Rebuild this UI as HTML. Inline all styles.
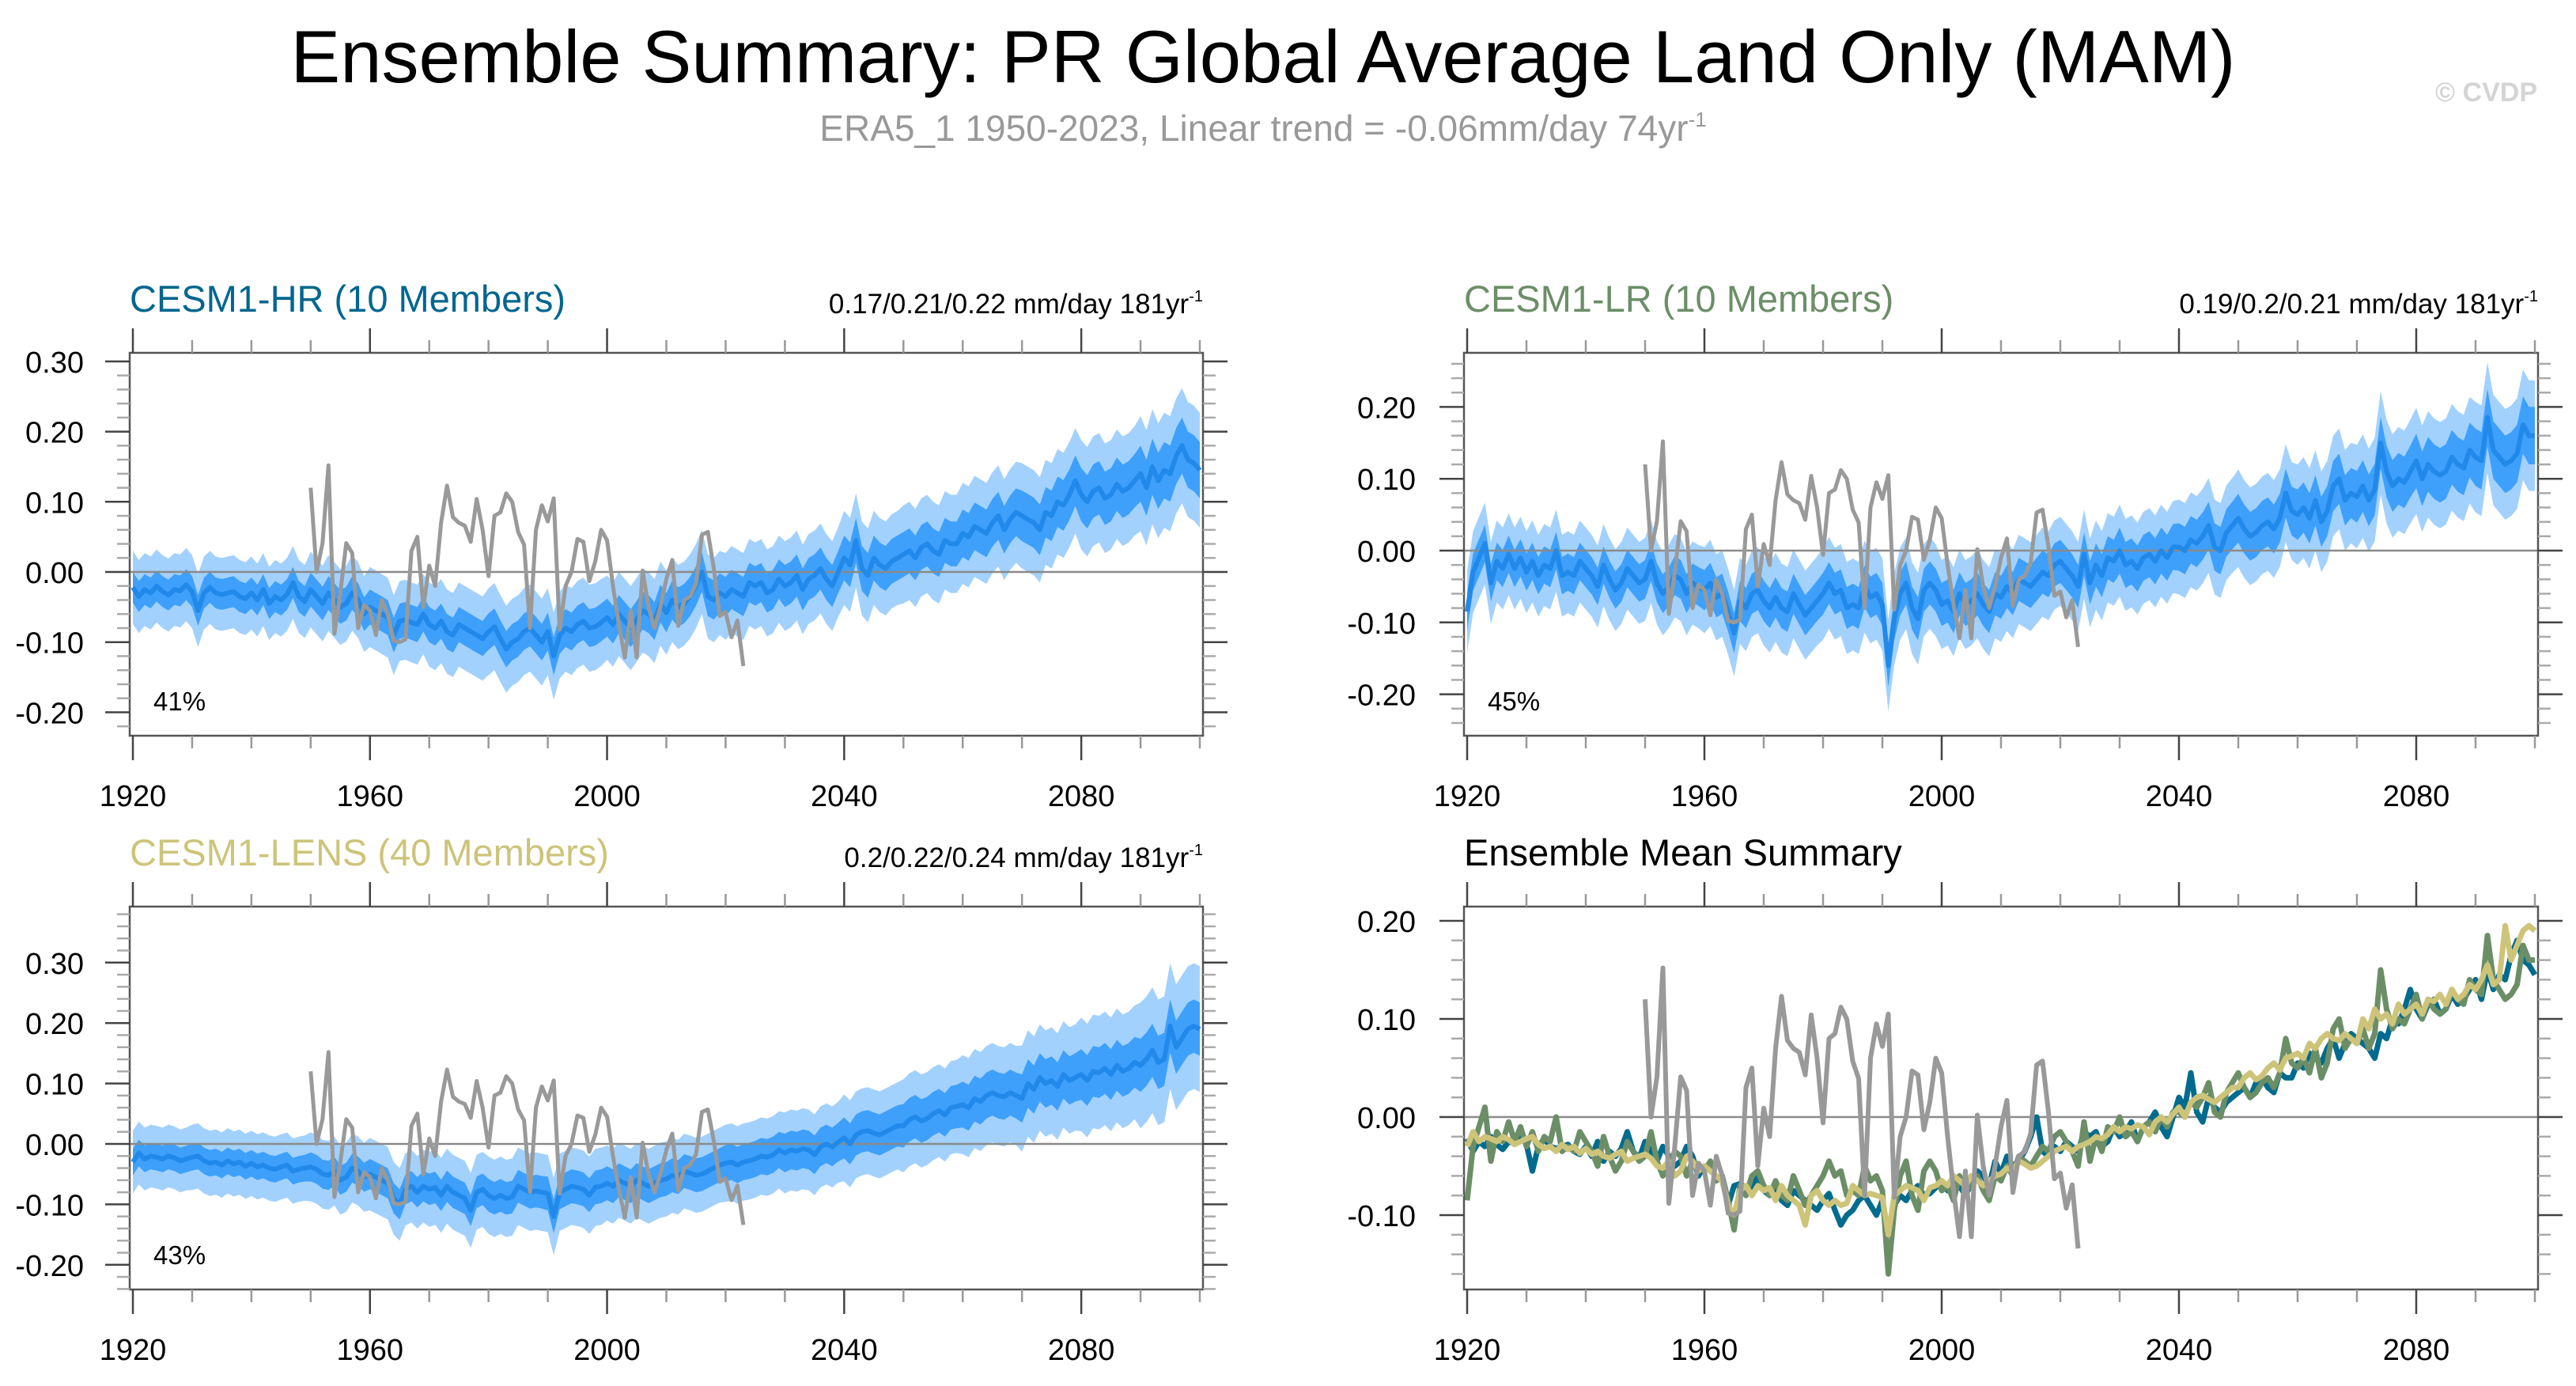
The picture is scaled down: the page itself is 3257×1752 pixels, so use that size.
<!DOCTYPE html>
<html><head><meta charset="utf-8"><title>Ensemble Summary</title>
<style>html,body{margin:0;padding:0;background:#fff;}svg{display:block;font-family:"Liberation Sans",Arial,sans-serif;}</style>
</head><body>
<svg id="fig" width="3257" height="1752" viewBox="0 0 3257 1752" xmlns="http://www.w3.org/2000/svg">
<rect width="3257" height="1752" fill="#fff"/>
<text x="1597" y="104" font-size="94" text-anchor="middle" fill="#000">Ensemble Summary: PR Global Average Land Only (MAM)</text>
<text x="1597" y="178" font-size="46" text-anchor="middle" fill="#999">ERA5_1 1950-2023, Linear trend = -0.06mm/day 74yr<tspan font-size="26" dy="-18">-1</tspan></text>
<text x="3208" y="128" font-size="34" font-weight="bold" text-anchor="end" fill="#d4d4d4">© CVDP</text>
</svg>
<script>
// ---- data (values in thousandths of mm/day), years 1920..2100 ----
const yearStart = 1920;
const yearEnd = 2100;
const meanHR = [
-22,-35,-25,-30,-20,-28,-33,-25,-27,-18,
-28,-55,-30,-22,-30,-32,-30,-28,-35,-38,
-30,-40,-25,-45,-35,-40,-32,-15,-35,-42,
-25,-35,-45,-30,-40,-50,-45,-30,-40,-60,
-50,-55,-60,-65,-90,-70,-68,-72,-75,-60,
-75,-80,-70,-85,-90,-75,-80,-85,-90,-95,
-85,-78,-95,-110,-100,-95,-85,-80,-90,-100,
-85,-120,-90,-80,-85,-75,-70,-80,-78,-72,
-65,-75,-60,-70,-80,-68,-55,-60,-70,-45,
-58,-40,-50,-45,-35,-20,0,-35,-40,-30,
-35,-25,-30,-35,-15,-20,-15,-30,-25,-10,
-20,-15,-5,-25,-10,-5,5,-10,-20,0,
20,10,45,5,-5,20,10,5,15,20,
25,30,20,35,40,30,25,45,40,40,
55,50,65,60,55,70,80,60,75,85,
80,75,70,60,85,80,100,95,110,130,
110,100,115,120,105,110,125,115,120,130,
140,120,150,130,145,140,165,180,160,155,
145];
const meanLR = [
-85,-30,-10,10,-45,-15,-25,-5,-25,-10,
-30,-15,-35,-20,-25,0,-35,-30,-35,-15,
-25,-35,-50,-20,-40,-55,-45,-25,-35,-45,
-40,-15,-45,-60,-50,-35,-40,-60,-45,-50,
-55,-45,-65,-60,-85,-115,-70,-80,-60,-55,
-70,-80,-65,-80,-85,-60,-75,-90,-80,-70,
-60,-45,-60,-55,-80,-75,-80,-50,-65,-60,
-75,-160,-95,-60,-45,-80,-95,-55,-45,-55,
-75,-70,-85,-60,-75,-70,-60,-75,-85,-60,
-65,-50,-60,-40,-45,-50,-40,-30,-35,-20,
-15,-25,-35,-50,-5,-45,-20,-35,-10,-15,
0,-20,-15,-25,-10,-5,-15,0,-10,5,
5,0,15,10,20,35,5,0,25,35,
45,30,20,25,35,40,30,45,80,55,
50,60,45,70,40,55,90,100,70,80,
75,90,70,85,150,110,90,100,95,110,
125,100,120,110,105,110,130,120,115,140,
130,125,185,140,130,120,125,135,175,160,
160];
const meanLENS = [
-30,-15,-25,-20,-22,-25,-20,-23,-28,-25,
-22,-20,-28,-32,-30,-35,-28,-33,-30,-37,
-32,-38,-35,-40,-42,-38,-35,-45,-42,-40,
-38,-42,-50,-52,-45,-60,-55,-40,-45,-55,
-50,-55,-60,-65,-90,-100,-75,-70,-80,-70,
-75,-72,-85,-70,-80,-85,-90,-110,-80,-75,
-85,-90,-85,-90,-88,-70,-75,-80,-78,-80,
-82,-120,-80,-75,-70,-72,-75,-85,-72,-70,
-65,-70,-60,-65,-70,-60,-65,-70,-65,-60,
-58,-52,-55,-45,-48,-52,-50,-45,-40,-35,
-32,-30,-35,-30,-28,-25,-20,-22,-18,-10,
-15,-10,-12,-8,-10,-18,-5,0,-5,3,
10,0,15,20,22,18,15,20,25,30,
30,40,45,38,42,50,55,48,60,62,
65,60,75,70,80,85,80,78,85,80,
75,100,90,110,100,105,95,115,105,110,
115,105,120,118,125,115,130,120,125,135,
130,140,155,135,140,195,160,175,190,195,
190];
// band half-widths per decade (thousandths)
const innerHR = [22,22,22,24,25,25,26,27,27,28,28,30,32,32,34,36,38,40,40];
const outerHR = [52,52,52,54,57,60,62,62,60,60,62,64,67,70,72,75,78,82,82];
const innerLR = [26,26,26,27,28,28,29,30,30,30,30,32,33,34,35,36,38,40,40];
const outerLR = [57,57,57,58,60,62,64,64,62,62,62,64,66,68,70,72,74,77,77];
const innerLENS = [22,22,22,24,25,26,27,28,28,28,30,32,34,36,38,40,42,44,44];
const outerLENS = [52,54,54,57,60,62,64,64,62,62,64,67,72,77,82,88,94,104,104];
// ERA5 observations 1950..2023
const eraStart = 1950;
const era5 = [
120,0,41,152,-88,-30,41,27,-80,-47,
-55,-90,-40,-60,-98,-100,-96,30,50,-50,
9,-20,70,123,78,70,66,43,104,60,
-6,80,85,112,100,57,39,-80,60,95,
72,105,-82,-20,0,47,43,-13,15,60,
45,-20,-75,-122,-55,-122,2,-50,-80,-50,
-10,17,-77,-40,-35,-17,53,57,5,-63,
-57,-93,-69,-134];
const xTickLabels = ["1920","1960","2000","2040","2080"];
const trendHR = "0.17/0.21/0.22 mm/day 181yr";
const trendLR = "0.19/0.2/0.21 mm/day 181yr";
const trendLENS = "0.2/0.22/0.24 mm/day 181yr";
const pctHR = "41%", pctLR = "45%", pctLENS = "43%";

const NS = "http://www.w3.org/2000/svg";
const svg = document.getElementById('fig');
function mk(tag, attrs, parent){
  const e = document.createElementNS(NS, tag);
  for (const k in attrs) e.setAttribute(k, attrs[k]);
  (parent||svg).appendChild(e);
  return e;
}

function drawPanel(cfg){
  const g = mk('g', {});
  
  
  const xs = y => cfg.x0 + (y - yearStart) * (cfg.x1 - cfg.x0) / (yearEnd - yearStart);
  const ys = v => cfg.yZero - (v / 1000) * cfg.per01 * 10;
  const bl = cfg.x0 - 4, br = cfg.x1 + 4;
  const vTop = (cfg.yZero - cfg.top) / (cfg.per01 * 10);
  const vBot = (cfg.yZero - cfg.bottom) / (cfg.per01 * 10);
  const cp = mk('clipPath', {id: 'clip-' + cfg.name}, g);
  mk('rect', {x: bl, y: cfg.top, width: br - bl, height: cfg.bottom - cfg.top}, cp);
  const plot = mk('g', {'clip-path': 'url(#clip-' + cfg.name + ')'}, g);
  
  

  function band(w, color, nm){
    let up = [], dn = [];
    for (let i = 0; i < cfg.mean.length; i++){
      const d = w[Math.floor(i / 10)];
      up.push(xs(yearStart + i).toFixed(1) + ',' + ys(cfg.mean[i] + d).toFixed(1));
      dn.push(xs(yearStart + i).toFixed(1) + ',' + ys(cfg.mean[i] - d).toFixed(1));
    }
    const p = mk('polygon', {points: up.concat(dn.reverse()).join(' '), fill: color, stroke: 'none'}, plot);
    
    
  }
  function line(arr, start, color, width, nm){
    const pts = arr.map((v, i) => xs(start + i).toFixed(1) + ',' + ys(v).toFixed(1)).join(' ');
    const l = mk('polyline', {points: pts, fill: 'none', stroke: color, 'stroke-width': width, 'stroke-linejoin': 'round'}, plot);
    
    
  }
  if (cfg.outer){
    band(cfg.outer, '#a3d1fd', 'outer-spread-band');
    band(cfg.inner, '#3ea0fb', 'inner-spread-band');
  }
  const z = mk('line', {x1: bl, x2: br, y1: ys(0), y2: ys(0), stroke: '#8a8a8a', 'stroke-width': 2.5}, plot);
  
  
  if (cfg.lines){
    cfg.lines.forEach(L => line(L.data, yearStart, L.color, 7, L.name));
    line(era5, eraStart, '#999999', 6, 'era5-line');
  } else {
    line(cfg.mean, yearStart, '#2189ea', 6, 'ensemble-mean-line');
    line(era5, eraStart, '#999999', 5, 'era5-line');
  }
  const box = mk('rect', {x: bl, y: cfg.top, width: br - bl, height: cfg.bottom - cfg.top, fill: 'none', stroke: '#555', 'stroke-width': 2.5}, g);
  
  
  const lo = Math.ceil(vBot * 50 - 1e-6), hi = Math.floor(vTop * 50 + 1e-6);
  for (let k = lo; k <= hi; k++){
    const v = k / 50, yy = cfg.yZero - v * cfg.per01 * 10;
    const major = (k % 5 === 0);
    const len = major ? 31 : 16, col = major ? '#444' : '#aaa';
    mk('line', {x1: bl - len, x2: bl, y1: yy, y2: yy, stroke: col, 'stroke-width': 2.5}, g);
    mk('line', {x1: br, x2: br + len, y1: yy, y2: yy, stroke: col, 'stroke-width': 2.5}, g);
    if (major){
      const t = mk('text', {x: cfg.labelX, y: yy + 14, 'font-size': 38, 'text-anchor': 'end', fill: '#000'}, g);
      t.textContent = v.toFixed(2);
      
      
    }
  }
  for (let yr = yearStart; yr <= yearEnd; yr += 10){
    const xx = xs(yr), major = ((yr - yearStart) % 40 === 0);
    const len = major ? 31 : 16, col = major ? '#444' : '#999';
    mk('line', {x1: xx, x2: xx, y1: cfg.top - len, y2: cfg.top, stroke: col, 'stroke-width': 2.5}, g);
    mk('line', {x1: xx, x2: xx, y1: cfg.bottom, y2: cfg.bottom + len, stroke: col, 'stroke-width': 2.5}, g);
  }
  xTickLabels.forEach(lbl => {
    const t = mk('text', {x: xs(+lbl), y: cfg.bottom + 89, 'font-size': 38, 'text-anchor': 'middle', fill: '#000'}, g);
    t.textContent = lbl;
    
    
  });
  const tt = mk('text', {x: bl, y: cfg.top - 52, 'font-size': 47, fill: cfg.titleColor}, g);
  tt.textContent = cfg.title;
  
  
  if (cfg.trend){
    const tr = mk('text', {x: br, y: cfg.top - 50, 'font-size': 35, 'text-anchor': 'end', fill: '#000'}, g);
    tr.textContent = cfg.trend;
    const sup = mk('tspan', {'font-size': 20, dy: -15}, tr);
    sup.textContent = '-1';
    
    
    const pc = mk('text', {x: bl + 30, y: cfg.bottom - 32, 'font-size': 33, fill: '#000'}, g);
    pc.textContent = cfg.pct;
    
    
  }
}

drawPanel({name:'panel-cesm1-hr', x0:168, x1:1517, top:446, bottom:930, yZero:723, per01:88.7, labelX:106,
  mean:meanHR, inner:innerHR, outer:outerHR, title:'CESM1-HR (10 Members)', titleColor:'#00668f', trend:trendHR, pct:pctHR});
drawPanel({name:'panel-cesm1-lr', x0:1855, x1:3205, top:446, bottom:930, yZero:696, per01:90.8, labelX:1790,
  mean:meanLR, inner:innerLR, outer:outerLR, title:'CESM1-LR (10 Members)', titleColor:'#6b8e67', trend:trendLR, pct:pctLR});
drawPanel({name:'panel-cesm1-lens', x0:168, x1:1517, top:1146, bottom:1630, yZero:1446, per01:76.4, labelX:106,
  mean:meanLENS, inner:innerLENS, outer:outerLENS, title:'CESM1-LENS (40 Members)', titleColor:'#cdc47a', trend:trendLENS, pct:pctLENS});
drawPanel({name:'panel-ensemble-mean-summary', x0:1855, x1:3205, top:1146, bottom:1630, yZero:1412, per01:124, labelX:1790,
  mean:meanHR, title:'Ensemble Mean Summary', titleColor:'#000',
  lines:[{data:meanHR,color:'#006b8f',name:'cesm1-hr-mean-line'},{data:meanLR,color:'#6b8e67',name:'cesm1-lr-mean-line'},{data:meanLENS,color:'#cdc47a',name:'cesm1-lens-mean-line'}]});
</script>
</body></html>
